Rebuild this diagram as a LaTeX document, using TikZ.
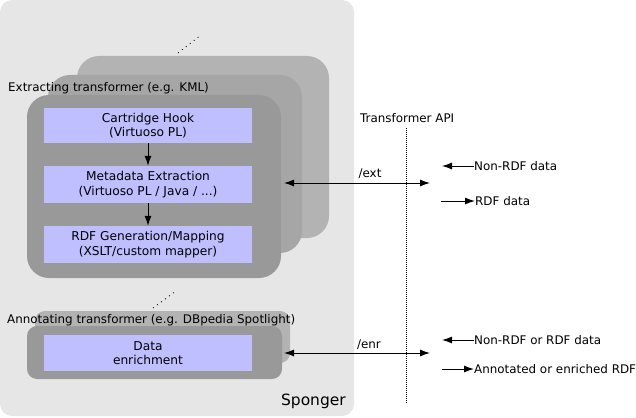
\documentclass[tikz,border=0pt]{standalone}
\usepackage{fontspec}
\setmainfont{DejaVu Sans}
\usetikzlibrary{arrows.meta}
\definecolor{spongergray}{HTML}{E6E6E6}
\definecolor{backgray}{HTML}{B3B3B3}
\definecolor{midgray}{HTML}{A6A6A6}
\definecolor{frontgray}{HTML}{999999}
\definecolor{stepblue}{HTML}{BFBFFF}
\tikzset{
  layer/.style={rounded corners=22pt, inner sep=0pt},
  stepbox/.style={fill=stepblue, minimum width=208pt, inner sep=0pt, align=center,
    font=\fontsize{12.2}{14.6}\selectfont},
  txt/.style={font=\fontsize{11.9}{14}\selectfont, inner sep=0pt},
  flow/.style={-{Latex[length=10pt,width=7pt]}, line width=1pt},
  api/.style={{Latex[length=10pt,width=7pt]}-{Latex[length=10pt,width=7pt]}, line width=1pt},
}
\begin{document}
\begin{tikzpicture}[x=1pt, y=-1pt]
  \useasboundingbox (0,0) rectangle (636,417);
  % Sponger
  \node[fill=spongergray, rounded corners=12pt, minimum width=354pt, minimum height=416pt, inner sep=0pt] (sponger) at (177,208) {};
  \node[txt, anchor=east, font=\fontsize{15.5}{18}\selectfont] (spongerlbl) at (346,401) {Sponger};
  % Extracting transformer stack
  \node[layer, fill=backgray, minimum width=252pt, minimum height=182pt] (extback) at (203,147) {};
  \node[layer, fill=midgray, minimum width=254pt, minimum height=178pt] (extmid) at (175,164) {};
  \node[layer, fill=frontgray, minimum width=254pt, minimum height=183pt] (extfront) at (154,186.5) {};
  \draw[dash pattern=on 1pt off 4pt, line width=0.8pt] (178,53) -- (201,35);
  \node[txt, anchor=west] (extlbl) at (8,88) {Extracting transformer (e.g. KML)};
  \node[stepbox, minimum height=35pt] (hook) at (148,125.5) {Cartridge Hook\\(Virtuoso PL)};
  \node[stepbox, minimum height=37pt] (meta) at (148,184.5) {Metadata Extraction\\(Virtuoso PL / Java / ...)};
  \node[stepbox, minimum height=37pt] (rdfgen) at (148,244.5) {RDF Generation/Mapping\\(XSLT/custom mapper)};
  \draw[flow] (hook) -- (meta);
  \draw[flow] (meta) -- (rdfgen);
  % Annotating transformer stack
  \node[layer, rounded corners=10pt, fill=backgray, minimum width=255pt, minimum height=52pt] (annback) at (162.5,337) {};
  \node[layer, rounded corners=10pt, fill=frontgray, minimum width=255pt, minimum height=53pt] (annfront) at (154.5,352.5) {};
  \draw[dash pattern=on 1pt off 4pt, line width=0.8pt] (153,308) -- (176,291);
  \node[txt, anchor=west] (annlbl) at (7,320) {Annotating transformer (e.g. DBpedia Spotlight)};
  \node[stepbox, minimum height=36pt] (enrich) at (148,353) {Data\\enrichment};
  % Transformer API
  \node[txt, anchor=west] (apilbl) at (360,118) {Transformer API};
  \coordinate (apitop) at (406,128);
  \coordinate (apibot) at (406,403);
  \draw[dash pattern=on 1pt off 1pt, line width=0.9pt] (apitop) -- (apibot);
  \coordinate (extin) at (284,183);
  \coordinate (extout) at (430,183);
  \draw[api] (extin) -- (extout);
  \node[txt] (extlabel) at (370,174) {/ext};
  \coordinate (enrin) at (284,353);
  \coordinate (enrout) at (430,353);
  \draw[api] (enrin) -- (enrout);
  \node[txt] (enrlabel) at (369,345) {/enr};
  % Legend
  \node[txt, anchor=west] (nonrdf) at (474,166) {Non-RDF data};
  \draw[flow] (nonrdf.west) -- ++(-32,0);
  \node[txt, anchor=west] (rdf) at (475,201) {RDF data};
  \draw[flow] ([xshift=-34pt]rdf.west) -- (rdf.west);
  \node[txt, anchor=west] (anyrdf) at (474,340) {Non-RDF or RDF data};
  \draw[flow] (anyrdf.west) -- ++(-32,0);
  \node[txt, anchor=west] (enriched) at (474,369) {Annotated or enriched RDF};
  \draw[flow] ([xshift=-32pt]enriched.west) -- (enriched.west);
\end{tikzpicture}
\end{document}
